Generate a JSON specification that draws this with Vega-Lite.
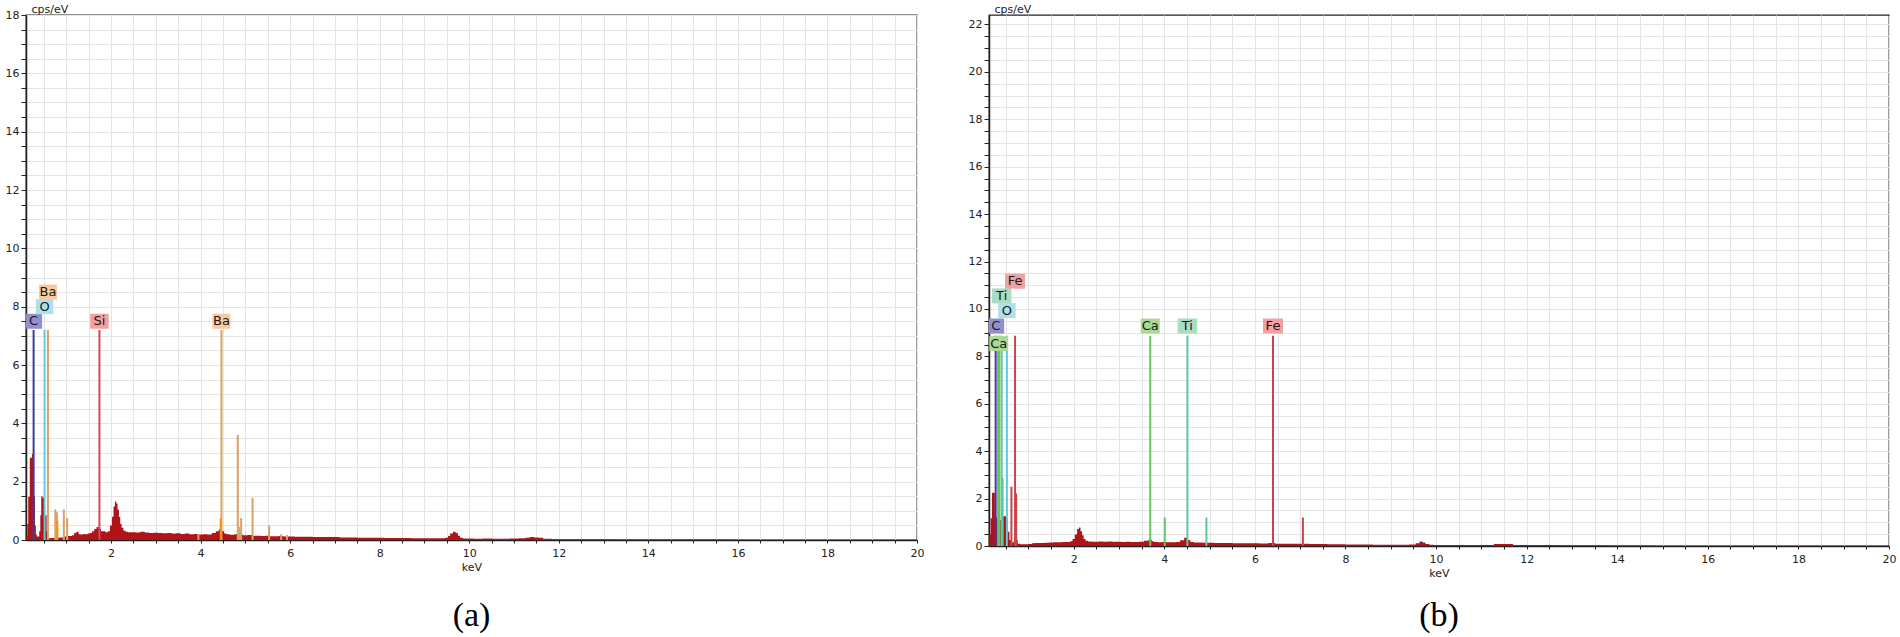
{
  "$schema": "https://vega.github.io/schema/vega-lite/v6.json",
  "background": "white",
  "padding": {"left": 4, "top": 2, "right": 2, "bottom": 0},
  "spacing": 42,
  "config": {
    "view": {"stroke": "#222", "strokeWidth": 1.3},
    "axis": {
      "grid": true, "gridColor": "#e4e4e4", "gridWidth": 1,
      "domainColor": "#222", "domainWidth": 1.5,
      "tickColor": "#222", "tickWidth": 1,
      "labelFont": "DejaVu Sans", "labelFontSize": 11, "labelColor": "#222",
      "labelOverlap": false, "labelFlush": false, "format": "d",
      "titleFont": "DejaVu Sans", "titleFontSize": 11, "titleFontWeight": "normal", "titleColor": "#222"
    }
  },
  "datasets": {
    "specA": [
      {"keV":0.10,"cps":0},{"keV":0.12,"cps":0.15},{"keV":0.14,"cps":0.55},{"keV":0.16,"cps":1.48},{"keV":0.18,"cps":1.48},
      {"keV":0.19,"cps":2.82},{"keV":0.22,"cps":2.82},{"keV":0.25,"cps":2.95},{"keV":0.29,"cps":1.5},{"keV":0.31,"cps":0.5},
      {"keV":0.33,"cps":0.2},{"keV":0.35,"cps":0.12},{"keV":0.38,"cps":0.12},{"keV":0.41,"cps":0.3},{"keV":0.43,"cps":0.85},
      {"keV":0.45,"cps":1.5},{"keV":0.49,"cps":1.45},{"keV":0.53,"cps":0.85},{"keV":0.55,"cps":0.85},{"keV":0.57,"cps":0.3},
      {"keV":0.59,"cps":0.1},{"keV":0.62,"cps":0.06},{"keV":0.7,"cps":0.07},{"keV":0.8,"cps":0.08},{"keV":0.9,"cps":0.09},
      {"keV":1.0,"cps":0.12},{"keV":1.05,"cps":0.14},{"keV":1.1,"cps":0.14},{"keV":1.15,"cps":0.16},{"keV":1.2,"cps":0.24},
      {"keV":1.25,"cps":0.28},{"keV":1.3,"cps":0.2},{"keV":1.35,"cps":0.19},{"keV":1.4,"cps":0.21},{"keV":1.45,"cps":0.2},
      {"keV":1.5,"cps":0.22},{"keV":1.55,"cps":0.24},{"keV":1.6,"cps":0.3},{"keV":1.65,"cps":0.38},{"keV":1.7,"cps":0.45},
      {"keV":1.75,"cps":0.38},{"keV":1.8,"cps":0.3},{"keV":1.85,"cps":0.3},{"keV":1.9,"cps":0.27},{"keV":1.95,"cps":0.3},
      {"keV":2.0,"cps":0.5},{"keV":2.04,"cps":0.8},{"keV":2.07,"cps":1.15},{"keV":2.1,"cps":1.32},{"keV":2.13,"cps":1.25},
      {"keV":2.16,"cps":1.05},{"keV":2.19,"cps":0.8},{"keV":2.22,"cps":0.55},{"keV":2.25,"cps":0.42},{"keV":2.3,"cps":0.32},
      {"keV":2.35,"cps":0.28},{"keV":2.4,"cps":0.27},{"keV":2.5,"cps":0.27},{"keV":2.6,"cps":0.26},{"keV":2.7,"cps":0.28},
      {"keV":2.8,"cps":0.26},{"keV":2.9,"cps":0.24},{"keV":3.0,"cps":0.25},{"keV":3.1,"cps":0.24},{"keV":3.2,"cps":0.23},
      {"keV":3.3,"cps":0.24},{"keV":3.4,"cps":0.22},{"keV":3.5,"cps":0.23},{"keV":3.6,"cps":0.21},{"keV":3.7,"cps":0.22},
      {"keV":3.8,"cps":0.2},{"keV":3.9,"cps":0.21},{"keV":4.0,"cps":0.19},{"keV":4.1,"cps":0.2},{"keV":4.2,"cps":0.19},
      {"keV":4.3,"cps":0.24},{"keV":4.38,"cps":0.3},{"keV":4.43,"cps":0.36},{"keV":4.5,"cps":0.3},{"keV":4.55,"cps":0.22},
      {"keV":4.6,"cps":0.2},{"keV":4.7,"cps":0.18},{"keV":4.8,"cps":0.2},{"keV":4.85,"cps":0.22},{"keV":4.9,"cps":0.18},
      {"keV":5.0,"cps":0.16},{"keV":5.1,"cps":0.17},{"keV":5.2,"cps":0.15},{"keV":5.3,"cps":0.15},{"keV":5.4,"cps":0.14},
      {"keV":5.5,"cps":0.15},{"keV":5.6,"cps":0.13},{"keV":5.7,"cps":0.13},{"keV":5.8,"cps":0.14},{"keV":5.9,"cps":0.12},
      {"keV":6.0,"cps":0.12},{"keV":6.2,"cps":0.11},{"keV":6.4,"cps":0.11},{"keV":6.6,"cps":0.1},{"keV":6.8,"cps":0.1},
      {"keV":7.0,"cps":0.1},{"keV":7.2,"cps":0.09},{"keV":7.4,"cps":0.09},{"keV":7.6,"cps":0.08},{"keV":7.8,"cps":0.08},
      {"keV":8.0,"cps":0.08},{"keV":8.2,"cps":0.07},{"keV":8.4,"cps":0.07},{"keV":8.6,"cps":0.07},{"keV":8.8,"cps":0.06},
      {"keV":9.0,"cps":0.06},{"keV":9.2,"cps":0.06},{"keV":9.4,"cps":0.06},{"keV":9.5,"cps":0.08},{"keV":9.55,"cps":0.14},
      {"keV":9.6,"cps":0.22},{"keV":9.67,"cps":0.28},{"keV":9.72,"cps":0.24},{"keV":9.77,"cps":0.15},{"keV":9.82,"cps":0.08},
      {"keV":9.9,"cps":0.05},{"keV":10.0,"cps":0.05},{"keV":10.2,"cps":0.04},{"keV":10.4,"cps":0.05},{"keV":10.6,"cps":0.04},
      {"keV":10.8,"cps":0.04},{"keV":11.0,"cps":0.05},{"keV":11.2,"cps":0.06},{"keV":11.3,"cps":0.08},{"keV":11.4,"cps":0.1},
      {"keV":11.5,"cps":0.09},{"keV":11.6,"cps":0.08},{"keV":11.7,"cps":0.04},{"keV":12.0,"cps":0.03},{"keV":12.5,"cps":0.03},
      {"keV":13.0,"cps":0.03},{"keV":13.5,"cps":0.02},{"keV":14.0,"cps":0.02},{"keV":14.5,"cps":0.02},{"keV":15.0,"cps":0.015},
      {"keV":15.5,"cps":0.015},{"keV":16.0,"cps":0.01},{"keV":16.3,"cps":0},{"keV":20,"cps":0}
    ],
    "specB": [
      {"keV":0.13,"cps":0},{"keV":0.15,"cps":0.5},{"keV":0.18,"cps":1.17},{"keV":0.21,"cps":2.25},{"keV":0.25,"cps":2.25},
      {"keV":0.27,"cps":1.5},{"keV":0.3,"cps":1.2},{"keV":0.35,"cps":1.0},{"keV":0.4,"cps":1.1},{"keV":0.45,"cps":1.25},
      {"keV":0.5,"cps":1.25},{"keV":0.53,"cps":1.15},{"keV":0.56,"cps":0.6},{"keV":0.6,"cps":0.25},{"keV":0.65,"cps":0.15},
      {"keV":0.7,"cps":0.2},{"keV":0.75,"cps":0.25},{"keV":0.78,"cps":0.1},{"keV":0.85,"cps":0.07},{"keV":0.95,"cps":0.07},
      {"keV":1.05,"cps":0.08},{"keV":1.1,"cps":0.12},{"keV":1.2,"cps":0.13},{"keV":1.3,"cps":0.13},{"keV":1.4,"cps":0.14},
      {"keV":1.5,"cps":0.15},{"keV":1.6,"cps":0.16},{"keV":1.7,"cps":0.16},{"keV":1.8,"cps":0.17},{"keV":1.9,"cps":0.17},
      {"keV":1.95,"cps":0.2},{"keV":2.0,"cps":0.3},{"keV":2.05,"cps":0.48},{"keV":2.1,"cps":0.72},{"keV":2.13,"cps":0.78},
      {"keV":2.17,"cps":0.62},{"keV":2.2,"cps":0.45},{"keV":2.24,"cps":0.3},{"keV":2.28,"cps":0.22},{"keV":2.35,"cps":0.19},
      {"keV":2.5,"cps":0.18},{"keV":2.6,"cps":0.19},{"keV":2.7,"cps":0.18},{"keV":2.8,"cps":0.19},{"keV":2.9,"cps":0.18},
      {"keV":3.0,"cps":0.18},{"keV":3.1,"cps":0.17},{"keV":3.2,"cps":0.18},{"keV":3.3,"cps":0.17},{"keV":3.4,"cps":0.17},
      {"keV":3.5,"cps":0.18},{"keV":3.6,"cps":0.22},{"keV":3.7,"cps":0.26},{"keV":3.75,"cps":0.2},{"keV":3.8,"cps":0.17},
      {"keV":3.9,"cps":0.16},{"keV":4.0,"cps":0.17},{"keV":4.1,"cps":0.16},{"keV":4.2,"cps":0.16},{"keV":4.3,"cps":0.17},
      {"keV":4.4,"cps":0.24},{"keV":4.48,"cps":0.35},{"keV":4.55,"cps":0.25},{"keV":4.6,"cps":0.17},{"keV":4.7,"cps":0.15},
      {"keV":4.8,"cps":0.15},{"keV":4.9,"cps":0.14},{"keV":5.0,"cps":0.14},{"keV":5.2,"cps":0.13},{"keV":5.4,"cps":0.13},
      {"keV":5.6,"cps":0.12},{"keV":5.8,"cps":0.12},{"keV":6.0,"cps":0.12},{"keV":6.2,"cps":0.11},{"keV":6.4,"cps":0.13},
      {"keV":6.5,"cps":0.1},{"keV":6.7,"cps":0.09},{"keV":6.9,"cps":0.09},{"keV":7.1,"cps":0.09},{"keV":7.3,"cps":0.08},
      {"keV":7.5,"cps":0.08},{"keV":7.7,"cps":0.07},{"keV":7.9,"cps":0.07},{"keV":8.1,"cps":0.06},{"keV":8.3,"cps":0.06},
      {"keV":8.5,"cps":0.06},{"keV":8.7,"cps":0.05},{"keV":8.9,"cps":0.05},{"keV":9.1,"cps":0.05},{"keV":9.3,"cps":0.05},
      {"keV":9.5,"cps":0.06},{"keV":9.6,"cps":0.12},{"keV":9.67,"cps":0.19},{"keV":9.73,"cps":0.15},{"keV":9.8,"cps":0.08},
      {"keV":9.9,"cps":0.05},{"keV":10.0,"cps":0.04},{"keV":10.3,"cps":0.04},{"keV":10.6,"cps":0.04},{"keV":10.9,"cps":0.04},
      {"keV":11.2,"cps":0.04},{"keV":11.35,"cps":0.08},{"keV":11.5,"cps":0.08},{"keV":11.65,"cps":0.08},{"keV":11.75,"cps":0.04},
      {"keV":12.0,"cps":0.04},{"keV":12.5,"cps":0.04},{"keV":13.0,"cps":0.03},{"keV":13.5,"cps":0.03},{"keV":14.0,"cps":0.025},
      {"keV":14.5,"cps":0.02},{"keV":14.8,"cps":0.01},{"keV":14.9,"cps":0},{"keV":20,"cps":0}
    ],
    "linesA": [
      {"series":"C","keV":0.27,"cps":7.2},{"series":"O","keV":0.515,"cps":7.2},{"series":"Ba","keV":0.59,"cps":7.2},
      {"series":"Si","keV":1.74,"cps":7.2},{"series":"Ba","keV":4.465,"cps":7.2},
      {"series":"Ba","keV":0.755,"cps":1.05},{"series":"Ba","keV":0.79,"cps":0.95},{"series":"Ba","keV":0.945,"cps":1.05},
      {"series":"Ba","keV":1.02,"cps":0.75},{"series":"Ba","keV":3.95,"cps":0.2},{"series":"Ba","keV":4.83,"cps":3.6},
      {"series":"Ba","keV":4.87,"cps":0.45},{"series":"Ba","keV":4.905,"cps":0.75},{"series":"Ba","keV":5.16,"cps":1.45},
      {"series":"Ba","keV":5.53,"cps":0.5},{"series":"Ba","keV":5.8,"cps":0.2},{"series":"Ba","keV":5.93,"cps":0.17},
      {"series":"BaHi","keV":0.8,"cps":0.66},{"series":"BaHi","keV":4.45,"cps":0.75}
    ],
    "labelsA": [
      {"element":"C","keV":0.27,"cps":7.5},{"element":"O","keV":0.515,"cps":8.0},{"element":"Ba","keV":0.59,"cps":8.5},
      {"element":"Si","keV":1.74,"cps":7.5},{"element":"Ba","keV":4.465,"cps":7.5}
    ],
    "linesB": [
      {"series":"C","keV":0.277,"cps":8.87},{"series":"Ca","keV":0.33,"cps":8.87},{"series":"Ca","keV":0.36,"cps":8.87},
      {"series":"Ti","keV":0.41,"cps":8.87},{"series":"Ti","keV":0.43,"cps":2.88},{"series":"O","keV":0.525,"cps":8.87},
      {"series":"Fe","keV":0.705,"cps":8.87},{"series":"Ca","keV":3.69,"cps":8.87},{"series":"Ti","keV":4.51,"cps":8.87},
      {"series":"Fe","keV":6.4,"cps":8.87},
      {"series":"Ca","keV":4.01,"cps":1.2},{"series":"Ti","keV":4.93,"cps":1.2},{"series":"Fe","keV":7.06,"cps":1.2},
      {"series":"Fe","keV":0.625,"cps":2.5},{"series":"Fe","keV":0.73,"cps":2.22}
    ],
    "labelsB": [
      {"element":"Ca","keV":0.345,"cps":8.54},{"element":"C","keV":0.277,"cps":9.28},{"element":"O","keV":0.525,"cps":9.93},
      {"element":"Ti","keV":0.41,"cps":10.55},{"element":"Fe","keV":0.705,"cps":11.17},
      {"element":"Ca","keV":3.69,"cps":9.28},{"element":"Ti","keV":4.51,"cps":9.28},{"element":"Fe","keV":6.4,"cps":9.28}
    ]
  },
  "hconcat": [
    {
      "width": 891,
      "height": 525,
      "title": {"text": "(a)", "orient": "bottom", "font": "Liberation Serif", "fontSize": 34, "fontWeight": "normal", "color": "#000", "offset": 27, "anchor": "middle"},
      "resolve": {"scale": {"color": "independent"}},
      "encoding": {
        "x": {"field": "keV", "type": "quantitative", "title": "keV",
          "scale": {"domain": [0.1, 20], "nice": false, "zero": false},
          "axis": {"values": [0.5,1,1.5,2,2.5,3,3.5,4,4.5,5,5.5,6,6.5,7,7.5,8,8.5,9,9.5,10,10.5,11,11.5,12,12.5,13,13.5,14,14.5,15,15.5,16,16.5,17,17.5,18,18.5,19,19.5,20],
            "labelExpr": "datum.value % 2 === 0 ? datum.label : ''", "tickSize": 3, "labelPadding": 4, "titlePadding": 3}},
        "y": {"field": "cps", "type": "quantitative", "title": "cps/eV",
          "scale": {"domain": [0, 18], "nice": false},
          "axis": {"values": [0,0.5,1,1.5,2,2.5,3,3.5,4,4.5,5,5.5,6,6.5,7,7.5,8,8.5,9,9.5,10,10.5,11,11.5,12,12.5,13,13.5,14,14.5,15,15.5,16,16.5,17,17.5,18],
            "labelExpr": "datum.value % 2 === 0 ? datum.label : ''", "tickSize": 5, "labelPadding": 2,
            "titleAngle": 0, "titleX": 5, "titleY": -1, "titleAlign": "left", "titleBaseline": "bottom"}}
      },
      "layer": [
        {
          "data": {"name": "specA"},
          "mark": {"type": "area", "interpolate": "step", "color": "#b01419", "clip": true}
        },
        {
          "data": {"name": "linesA"},
          "mark": {"type": "rule", "strokeWidth": 2, "clip": true},
          "encoding": {
            "y2": {"datum": 0},
            "color": {"field": "series", "type": "nominal", "legend": null,
              "scale": {"domain": ["C","O","Ba","Si","BaHi"], "range": ["#3c3c9c","#5ccbdc","#d9a265","#d6464c","#f5900a"]}}
          }
        },
        {
          "data": {"name": "labelsA"},
          "mark": {"type": "tick", "orient": "horizontal", "thickness": 15, "opacity": 1, "clip": true},
          "encoding": {
            "size": {"field": "element", "type": "nominal", "legend": null,
              "scale": {"domain": ["C","O","Ba","Si"], "range": [17,20,26,22]}},
            "color": {"field": "element", "type": "nominal", "legend": null,
              "scale": {"domain": ["C","O","Ba","Si"], "range": ["#9090d0","#aee0ea","#f9c89b","#f3a0a2"]}}
          }
        },
        {
          "data": {"name": "labelsA"},
          "mark": {"type": "text", "font": "DejaVu Sans", "fontSize": 13, "color": "#1a1a1a", "baseline": "middle", "align": "center", "clip": true},
          "encoding": {
            "text": {"field": "element", "type": "nominal"}
          }
        }
      ]
    },
    {
      "width": 900,
      "height": 531,
      "title": {"text": "(b)", "orient": "bottom", "font": "Liberation Serif", "fontSize": 34, "fontWeight": "normal", "color": "#000", "offset": 21, "anchor": "middle"},
      "resolve": {"scale": {"color": "independent"}},
      "encoding": {
        "x": {"field": "keV", "type": "quantitative", "title": "keV",
          "scale": {"domain": [0.13, 20], "nice": false, "zero": false},
          "axis": {"values": [0.5,1,1.5,2,2.5,3,3.5,4,4.5,5,5.5,6,6.5,7,7.5,8,8.5,9,9.5,10,10.5,11,11.5,12,12.5,13,13.5,14,14.5,15,15.5,16,16.5,17,17.5,18,18.5,19,19.5,20],
            "labelExpr": "datum.value % 2 === 0 ? datum.label : ''", "tickSize": 3, "labelPadding": 4, "titlePadding": 3}},
        "y": {"field": "cps", "type": "quantitative", "title": "cps/eV",
          "scale": {"domain": [0, 22.4], "nice": false},
          "axis": {"values": [0,0.5,1,1.5,2,2.5,3,3.5,4,4.5,5,5.5,6,6.5,7,7.5,8,8.5,9,9.5,10,10.5,11,11.5,12,12.5,13,13.5,14,14.5,15,15.5,16,16.5,17,17.5,18,18.5,19,19.5,20,20.5,21,21.5,22],
            "labelExpr": "datum.value % 2 === 0 ? datum.label : ''", "tickSize": 5, "labelPadding": 2,
            "titleAngle": 0, "titleX": 5, "titleY": -1, "titleAlign": "left", "titleBaseline": "bottom"}}
      },
      "layer": [
        {
          "data": {"name": "specB"},
          "mark": {"type": "area", "interpolate": "step", "color": "#b01419", "clip": true}
        },
        {
          "data": {"name": "linesB"},
          "mark": {"type": "rule", "strokeWidth": 2, "clip": true},
          "encoding": {
            "y2": {"datum": 0},
            "color": {"field": "series", "type": "nominal", "legend": null,
              "scale": {"domain": ["C","O","Ca","Ti","Fe"], "range": ["#3c3c9c","#5ccbdc","#64c464","#5ec89c","#c5474b"]}}
          }
        },
        {
          "data": {"name": "labelsB"},
          "mark": {"type": "tick", "orient": "horizontal", "thickness": 15, "opacity": 1, "clip": true},
          "encoding": {
            "size": {"field": "element", "type": "nominal", "legend": null,
              "scale": {"domain": ["C","O","Ca","Ti","Fe"], "range": [17,20,27,22,26]}},
            "color": {"field": "element", "type": "nominal", "legend": null,
              "scale": {"domain": ["C","O","Ca","Ti","Fe"], "range": ["#9090d0","#aee0ea","#aad995","#a9dcc2","#f3a0a2"]}}
          }
        },
        {
          "data": {"name": "labelsB"},
          "mark": {"type": "text", "font": "DejaVu Sans", "fontSize": 13, "color": "#1a1a1a", "baseline": "middle", "align": "center", "clip": true},
          "encoding": {
            "text": {"field": "element", "type": "nominal"}
          }
        }
      ]
    }
  ]
}
